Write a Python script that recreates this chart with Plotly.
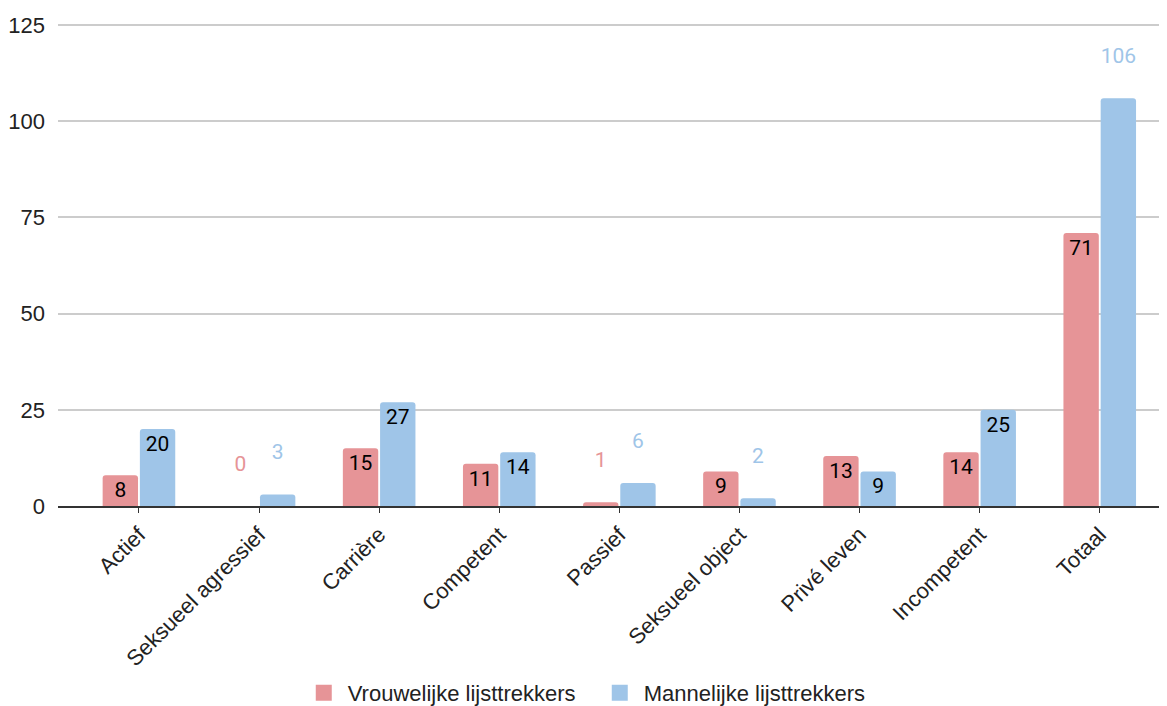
import plotly.graph_objects as go

categories = ["Actief", "Seksueel agressief", "Carrière", "Competent", "Passief",
              "Seksueel object", "Privé leven", "Incompetent", "Totaal"]
vrouwelijk = [8, 0, 15, 11, 1, 9, 13, 14, 71]
mannelijk = [20, 3, 27, 14, 6, 2, 9, 25, 106]
series_names = ["Vrouwelijke lijsttrekkers", "Mannelijke lijsttrekkers"]
colors = ["#e69497", "#9fc5e8"]
y_ticks = [0, 25, 50, 75, 100, 125]


def fits_inside(v):
    return v >= 8 and len(str(v)) <= 2


def labels(vals):
    return [str(v) if fits_inside(v) else f"{v}<br> " for v in vals]


def positions(vals):
    return ["inside" if fits_inside(v) else "outside" for v in vals]


fig = go.Figure()
for name, vals, col in zip(series_names, [vrouwelijk, mannelijk], colors):
    fig.add_trace(go.Bar(
        x=categories, y=vals, name=name, showlegend=False,
        marker=dict(color=col, line=dict(width=0)),
        text=labels(vals), textposition=positions(vals),
        insidetextanchor="end", constraintext="none",
        insidetextfont=dict(family="Roboto", size=21, color="#000000"),
        outsidetextfont=dict(family="Roboto", size=21, color=col),
        textangle=0, cliponaxis=False,
    ))

# legend entries with larger square swatches
for name, col in zip(series_names, colors):
    fig.add_trace(go.Scatter(
        x=[None], y=[None], mode="markers", name=name,
        marker=dict(symbol="square", size=16, color=col),
        showlegend=True,
    ))

# the page body adds an 8px margin, so the figure is sized 8px smaller
fig.update_layout(
    width=1159, height=698,
    paper_bgcolor="white", plot_bgcolor="white",
    margin=dict(l=50, r=0, t=16, b=200, autoexpand=False),
    barmode="group", bargap=0.38, bargroupgap=0.05,
    barcornerradius=3,
    font=dict(family="Liberation Sans, Arial, sans-serif", size=22, color="#222222"),
    showlegend=True,
    legend=dict(orientation="h", x=0.218, xanchor="left", y=-0.388, yanchor="middle",
                font=dict(size=22, color="#222222"), itemsizing="trace",
                itemwidth=38,
                entrywidth=243, entrywidthmode="pixels", tracegroupgap=0),
)
fig.update_xaxes(
    range=[-0.674, 8.56], tickangle=-45, showgrid=False, automargin=False,
    showline=True, linecolor="#333333", linewidth=2,
    ticks="outside", ticklen=5, tickcolor="#333333", tickwidth=1,
    tickfont=dict(size=22, color="#222222"),
)
fig.update_yaxes(
    range=[0, 125.3], tickvals=y_ticks, showgrid=True, gridcolor="#cccccc", gridwidth=1.5,
    zeroline=False, showline=False, ticks="", ticklabelstandoff=12, automargin=False,
    tickfont=dict(size=22, color="#222222"),
)

fig.write_html("out.html")
